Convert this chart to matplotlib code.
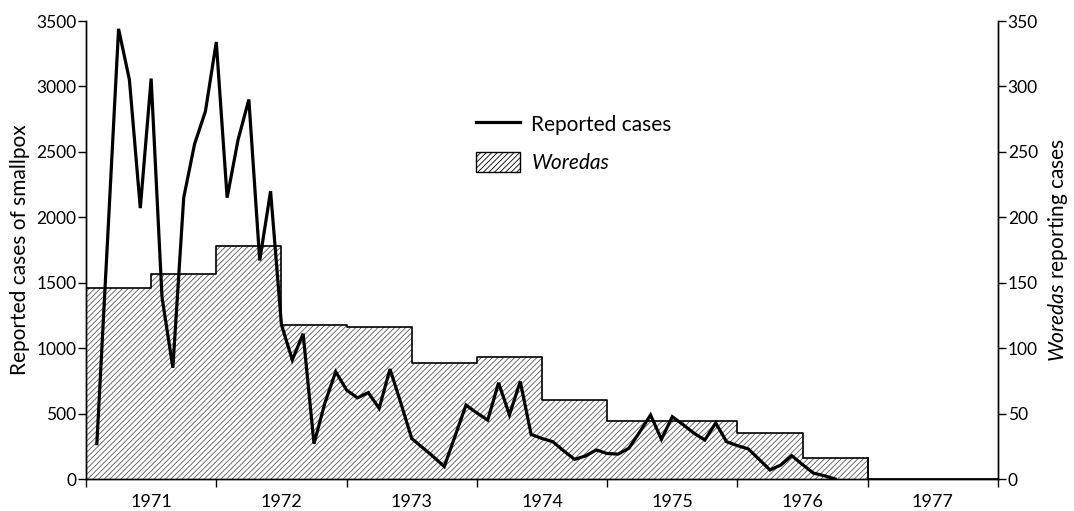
import numpy as np
import matplotlib
matplotlib.use("Agg")
import matplotlib.pyplot as plt
from matplotlib.patches import Patch
from matplotlib.lines import Line2D

plt.rcParams["font.family"] = ["Lato", "DejaVu Sans"]
plt.rcParams["mathtext.fontset"] = "custom"
plt.rcParams["mathtext.rm"] = "Lato"
plt.rcParams["mathtext.it"] = "Lato:italic"
plt.rcParams["hatch.linewidth"] = 0.6

# -----------------------------
# Data
# -----------------------------

# monthly reported smallpox cases, Jan 1971 .. Sep 1976
cases_1971 = [270, 1850, 3440, 3050, 2070, 3060, 1390, 850, 2150, 2560, 2810, 3340]
cases_1972 = [2150, 2590, 2900, 1670, 2200, 1180, 910, 1110, 270, 580, 820, 680]
cases_1973 = [620, 660, 540, 840, 580, 310, 240, 170, 95, 330, 565, 505]
cases_1974 = [450, 735, 490, 745, 340, 310, 285, 215, 150, 176, 222, 195]
cases_1975 = [190, 235, 360, 489, 303, 476, 415, 350, 298, 428, 285, 255]
cases_1976 = [230, 150, 69, 107, 178, 110, 45, 25, 0]

# woredas reporting cases, per half-year 1971 H1 .. 1977 H2
woredas = [146, 157, 178, 118, 116, 89, 93, 60, 44, 44, 35, 16, 0, 0]

years = [1971, 1972, 1973, 1974, 1975, 1976, 1977]

cases = np.array(cases_1971 + cases_1972 + cases_1973 + cases_1974 + cases_1975 + cases_1976)
t_cases = 1971 + (np.arange(len(cases)) + 1) / 12.0

half_edges = 1971 + 0.5 * np.arange(len(woredas) + 1)
woredas_ext = np.append(woredas, woredas[-1])

# -----------------------------
# Figure
# -----------------------------

fig = plt.figure(figsize=(10.74, 5.11), dpi=100)
ax = fig.add_axes([86 / 1074, 1 - 479 / 511, (998 - 86) / 1074, (479 - 21) / 511])
ax2 = ax.twinx()

# hatched woredas steps on the right axis
ax2.fill_between(half_edges, woredas_ext, step="post", facecolor="white",
                 edgecolor="0.35", hatch="//////", linewidth=0)
ax2.step(half_edges, woredas_ext, where="post", color="black", lw=1.2)
ax2.plot([half_edges[-3], half_edges[-3]], [woredas[-3], 0], color="black", lw=1.2)
ax2.set_ylim(0, 350)

# reported cases line on top
ax.plot(t_cases, cases, color="black", lw=2.3, solid_joinstyle="miter")
ax.set_zorder(ax2.get_zorder() + 1)
ax.patch.set_visible(False)
ax.set_ylim(0, 3500)
ax.set_xlim(1971, 1978)

# ticks
ax.set_yticks(np.arange(0, 3501, 500))
ax2.set_yticks(np.arange(0, 351, 50))
ax.set_xticks(np.arange(1971, 1979))
ax.set_xticklabels([])
ax.set_xticks(np.array(years) + 0.5, minor=True)
ax.set_xticklabels([str(y) for y in years], minor=True, fontsize=13)
ax.tick_params(axis="x", which="major", direction="out", length=6, width=1)
ax.tick_params(axis="x", which="minor", length=0, pad=11)
ax.tick_params(axis="y", direction="out", length=6, width=1, labelsize=12.5, pad=1)
ax2.tick_params(axis="y", direction="out", length=6, width=1, labelsize=12.5, pad=1)

for a in (ax, ax2):
    a.spines["top"].set_visible(False)
    for s in ("left", "right", "bottom"):
        a.spines[s].set_linewidth(1.0)

ax.set_ylabel("Reported cases of smallpox", fontsize=15, labelpad=4)
ax2.set_ylabel(r"$\it{Woredas}$ reporting cases", fontsize=15, labelpad=6)

# legend
handles = [Line2D([], [], color="black", lw=2.3),
           Patch(facecolor="white", edgecolor="black", hatch="//////", lw=1.0)]
leg = fig.legend(handles, ["Reported cases", "Woredas"], loc="upper left",
                 bbox_to_anchor=(476 / 1074, 1 - 114 / 511), bbox_transform=fig.transFigure,
                 frameon=False, fontsize=15, handlelength=2.1, handleheight=1.05,
                 handletextpad=0.55, labelspacing=0.85, borderpad=0, borderaxespad=0)
leg.get_texts()[1].set_fontstyle("italic")

fig.savefig("out.png", dpi=100)
